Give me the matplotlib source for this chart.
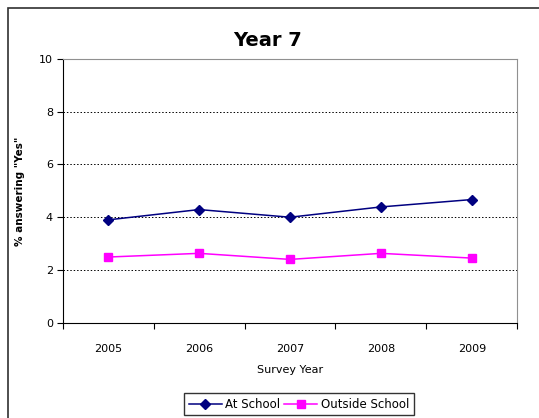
import matplotlib
matplotlib.use("Agg")
import matplotlib.pyplot as plt
from matplotlib.patches import Rectangle

# -------------------- data --------------------
years = ["2005", "2006", "2007", "2008", "2009"]
at_school = [3.9, 4.29, 4.0, 4.39, 4.67]
outside_school = [2.49, 2.63, 2.4, 2.63, 2.45]
y_ticks = [0, 2, 4, 6, 8, 10]

W, H = 539, 418
fig = plt.figure(figsize=(W/100, H/100), dpi=100)
fig.patch.set_facecolor("white")

# outer chart border (runs off the right/bottom edge)
fig.add_artist(Rectangle((7.5/W, -0.2), 1.2, 1 - 7.5/H + 0.2, transform=fig.transFigure,
                         fill=False, edgecolor="#303030", linewidth=1.2))

ax = fig.add_axes([62.7/W, (H-322.7)/H, 454.6/W, 263.7/H])
x = list(range(len(years)))
ax.plot(x, at_school, color="#000080", marker="D", markersize=5, linewidth=1.1, label="At School")
ax.plot(x, outside_school, color="#FF00FF", marker="s", markersize=5.5, linewidth=1.1, label="Outside School")

ax.set_xlim(-0.5, 4.5)
ax.set_ylim(0, 10)
ax.set_yticks(y_ticks)
ax.set_yticklabels([str(v) for v in y_ticks], fontsize=8)
ax.set_xticks([i - 0.5 for i in range(len(years) + 1)])
ax.set_xticklabels([])
ax.set_xticks(x, minor=True)
ax.set_xticklabels(years, minor=True, fontsize=8)
ax.tick_params(axis="x", which="minor", length=0, pad=15)
ax.tick_params(axis="x", which="major", length=4, direction="out", width=0.8)
ax.tick_params(axis="y", length=4, direction="out", width=0.8, pad=3)

for v in y_ticks[1:-1]:
    ax.axhline(v, color="black", linestyle=(0, (1.5, 2)), linewidth=0.7, zorder=0)

ax.spines["top"].set_color("#909090")
ax.spines["right"].set_color("#909090")
ax.spines["left"].set_color("black")
ax.spines["bottom"].set_color("black")

fig.text(268/W, 1 - 40/H, "Year 7", fontsize=14, fontweight="bold", ha="center", va="center")
ax.set_ylabel('% answering "Yes"', fontsize=7.5, fontweight="bold", labelpad=10)
ax.set_xlabel("Survey Year", fontsize=8, labelpad=8)

leg = fig.legend(loc="upper center", bbox_to_anchor=(299/W, 1 - 393/H), ncol=2,
                 fontsize=8.5, frameon=True, fancybox=False, edgecolor="black",
                 handlelength=2.8, columnspacing=0.3, handletextpad=0.3, borderpad=0.4,
                 borderaxespad=0)
leg.get_frame().set_linewidth(1.0)

fig.savefig("out.png", dpi=100)
